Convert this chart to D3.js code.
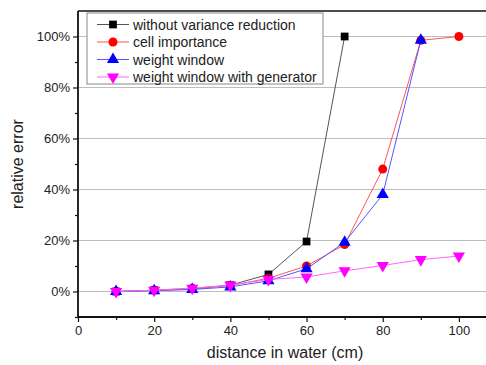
<!DOCTYPE html>
<html>
<head>
<meta charset="utf-8">
<script src="https://cdn.jsdelivr.net/npm/d3@7"></script>
<style>
  body { margin: 0; background: #fff; }
  text { font-family: "Liberation Sans", Arial, sans-serif; fill: #222; }
</style>
</head>
<body>
<div id="chart"></div>
<script>
const distances = [10, 20, 30, 40, 50, 60, 70, 80, 90, 100];
const noReduction = [0, 0.5, 1.0, 2.5, 6.7, 19.6, 100];
const cellImportance = [0, 0.5, 1.3, 2.3, 5.2, 10.0, 18.4, 48.0, 98.5, 100];
const weightWindow = [0, 0.3, 0.8, 1.8, 4.2, 8.9, 19.3, 38.0, 98.5];
const wwGenerator = [0, 0.5, 1.3, 2.5, 4.7, 5.7, 8.1, 10.2, 12.5, 13.9];
const seriesNames = ['without variance reduction', 'cell importance', 'weight window', 'weight window with generator'];
const xTicks = [0, 20, 40, 60, 80, 100];
const yTicks = [0, 20, 40, 60, 80, 100];

const W = 486, H = 365;
const margin = {top: 11, right: -11, bottom: 48, left: 78};

const svg = d3.select('#chart').append('svg')
  .attr('width', W).attr('height', H);

const x = d3.scaleLinear().domain([0, 110]).range([margin.left, W - margin.right]);
const y = d3.scaleLinear().domain([-10, 110]).range([H - margin.bottom, margin.top]);

// grid
svg.append('g').selectAll('line').data(yTicks).enter().append('line')
  .attr('x1', x(0)).attr('x2', x(110))
  .attr('y1', d => y(d)).attr('y2', d => y(d))
  .attr('stroke', '#bdbdbd').attr('stroke-width', 1);

// axes
svg.append('g').attr('transform', 'translate(0,' + y(-10) + ')')
  .call(d3.axisBottom(x).tickValues(xTicks).tickSize(5).tickPadding(4).tickFormat(d3.format('d')));
svg.append('g').attr('transform', 'translate(0,' + y(-10) + ')')
  .call(d3.axisBottom(x).tickValues([10, 30, 50, 70, 90]).tickSize(3).tickFormat(''));
svg.append('g').attr('transform', 'translate(' + x(0) + ',0)')
  .call(d3.axisLeft(y).tickValues(yTicks).tickSize(5).tickPadding(3).tickFormat(d => d + '%'));
svg.append('g').attr('transform', 'translate(' + x(0) + ',0)')
  .call(d3.axisLeft(y).tickValues([-10, 10, 30, 50, 70, 90]).tickSize(3).tickFormat(''));
svg.selectAll('.domain').remove();
svg.selectAll('.tick line').attr('stroke', '#111').attr('stroke-width', 1.2);
svg.selectAll('.tick text').style('font-size', '13px').attr('fill', '#222')
  .style('font-family', '"Liberation Sans", Arial, sans-serif');

// frame
svg.append('line').attr('x1', x(0)).attr('x2', x(110)).attr('y1', y(110)).attr('y2', y(110))
  .attr('stroke', '#111').attr('stroke-width', 1.5);
svg.append('line').attr('x1', x(0)).attr('x2', x(110)).attr('y1', y(-10)).attr('y2', y(-10))
  .attr('stroke', '#111').attr('stroke-width', 1.8);
svg.append('line').attr('x1', x(0)).attr('x2', x(0)).attr('y1', y(110)).attr('y2', y(-10))
  .attr('stroke', '#111').attr('stroke-width', 1.8);

// titles
svg.append('text').attr('x', 285).attr('y', 358).attr('text-anchor', 'middle')
  .style('font-size', '16px').text('distance in water (cm)');
svg.append('text').attr('transform', 'translate(23,' + ((y(110) + y(-10)) / 2) + ') rotate(-90)')
  .attr('text-anchor', 'middle').style('font-size', '16px').text('relative error');

const series = [
  {values: noReduction, color: '#000', line: '#555', symbol: d3.symbolSquare, size: 60, rot: 0},
  {values: cellImportance, color: '#ff0000', line: '#ff5555', symbol: d3.symbolCircle, size: 64, rot: 0},
  {values: weightWindow, color: '#0000ff', line: '#5555ff', symbol: d3.symbolTriangle, size: 64, rot: 0},
  {values: wwGenerator, color: '#ff00ff', line: '#ff66ff', symbol: d3.symbolTriangle, size: 64, rot: 180}
];

const line = d3.line().x(d => x(d[0])).y(d => y(d[1]));

series.forEach(s => {
  const pts = s.values.map((v, i) => [distances[i], v]);
  svg.append('path').attr('d', line(pts)).attr('fill', 'none')
    .attr('stroke', s.line).attr('stroke-width', 1);
  svg.append('g').selectAll('path').data(pts).enter().append('path')
    .attr('d', d3.symbol().type(s.symbol).size(s.size))
    .attr('transform', d => 'translate(' + x(d[0]) + ',' + y(d[1]) + ') rotate(' + s.rot + ')')
    .attr('fill', s.color);
});

// legend
const lg = svg.append('g');
lg.append('rect').attr('x', 87).attr('y', 13).attr('width', 236).attr('height', 71)
  .attr('fill', '#fff').attr('stroke', '#888').attr('stroke-width', 1);
series.forEach((s, i) => {
  const ly = 24.5 + i * 17.5;
  lg.append('line').attr('x1', 97).attr('x2', 129).attr('y1', ly).attr('y2', ly)
    .attr('stroke', s.line).attr('stroke-width', 1);
  lg.append('path').attr('d', d3.symbol().type(s.symbol).size(s.size)())
    .attr('transform', 'translate(113,' + ly + ') rotate(' + s.rot + ')')
    .attr('fill', s.color);
  lg.append('text').attr('x', 133).attr('y', ly + 5).style('font-size', '14px')
    .text(seriesNames[i]);
});
</script>
</body>
</html>
